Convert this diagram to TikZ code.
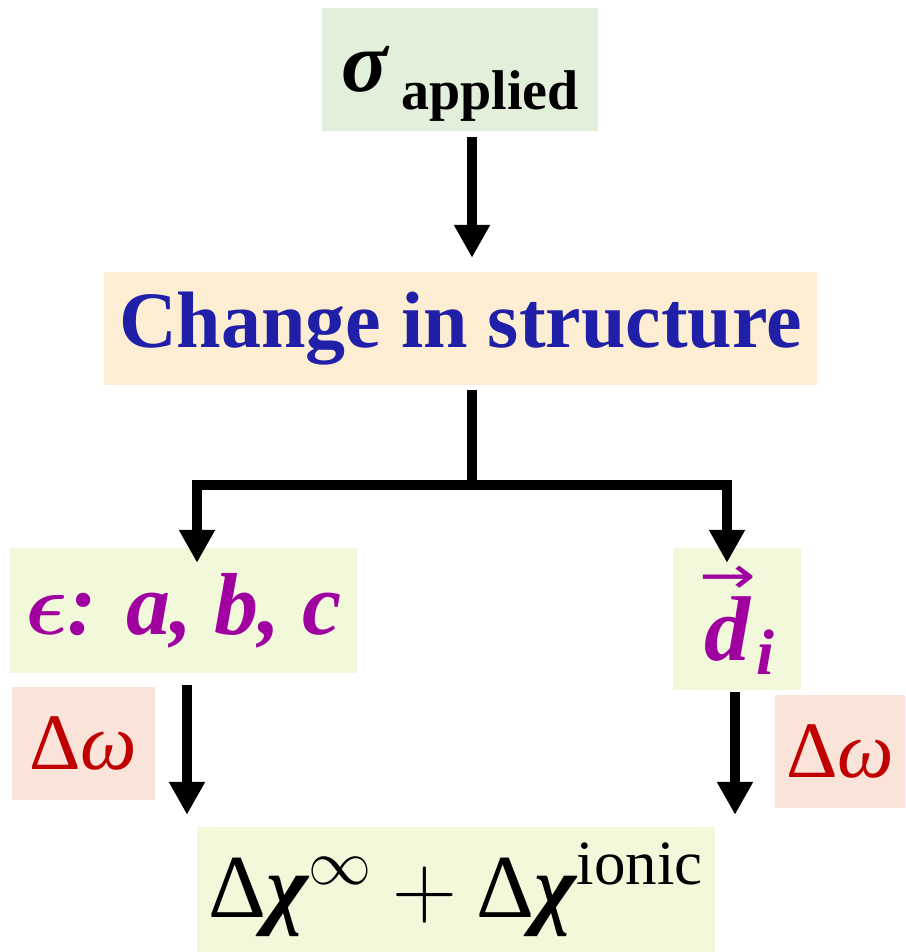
\documentclass[tikz,border=0pt]{standalone}
\usepackage{fix-cm}
\usepackage{amsmath}
\usepackage{bm}
\usepackage{fontspec}
\setmainfont{Liberation Serif}
\newfontfamily\arrowfont{DejaVu Sans}
\usetikzlibrary{arrows.meta}

\definecolor{sigmafill}{HTML}{E2EFDA}
\definecolor{changefill}{HTML}{FDEDD2}
\definecolor{leaffill}{HTML}{F2F9DB}
\definecolor{freqfill}{HTML}{FAE3D8}
\definecolor{changeblue}{HTML}{1F1FA8}
\definecolor{leafpurple}{HTML}{A000A0}
\definecolor{freqred}{HTML}{C00000}

\newcommand{\bigtext}{\fontsize{80}{96}\selectfont}
\newcommand{\bigchi}{\text{\bfseries\itshape χ}}

\begin{document}
\begin{tikzpicture}[x=1pt, y=-1pt, line cap=butt, line join=miter,
    arrow/.style={line width=10pt, -{Triangle[length=33pt,width=34pt]}},
    bar/.style={line width=10pt},
    sigmabox/.style={fill=sigmafill, inner sep=0pt, minimum width=276pt, text height=84pt, text depth=39pt},
    changebox/.style={fill=changefill, inner sep=0pt, minimum width=713pt, minimum height=113pt, text=changeblue},
    leafbox/.style={fill=leaffill, inner sep=0pt, text=leafpurple},
    freqbox/.style={fill=freqfill, inner sep=0pt, minimum width=143pt, minimum height=113pt, text=freqred}]
  \useasboundingbox (0,0) rectangle (905,952);
  % boxes
  \node[sigmabox, font=\bigtext] (sigma) at (460,69.5)
    {{\fontsize{86}{96}\selectfont\bfseries\itshape σ}\hspace{14pt}\raisebox{-18pt}{\fontsize{56}{60}\selectfont\bfseries applied}};
  \node[changebox, font=\bigtext\bfseries] (change) at (460.5,328.5) {Change in structure};
  \node[leafbox, minimum width=347pt, minimum height=125pt, font=\fontsize{88}{100}\selectfont] (strain) at (183.5,610.5)
    {$\bm{\epsilon}$\textbf{\textit{: a, b, c}}};
  \node[leafbox, minimum width=128pt, minimum height=142pt, font=\fontsize{92}{100}\selectfont] (disp) at (737,619)
    {$\overset{\raisebox{-26pt}{\scalebox{1.3}[1]{\arrowfont\fontsize{52}{52}\selectfont →}}}{\text{\bfseries\itshape d}}_{\text{\bfseries\itshape i}}$};
  \node[leafbox, minimum width=518pt, minimum height=125pt, text=black, font=\fontsize{90}{100}\selectfont] (chi) at (456,889.5)
    {$\text{Δ}\bigchi^{\infty}+\text{Δ}\bigchi^{\text{ionic}}$};
  \node[freqbox, font=\bigtext] (freqL) at (83.5,743.5) {Δ\textit{ω}};
  \node[freqbox, minimum width=130pt, font=\bigtext] (freqR) at (840,751.5) {Δ\textit{ω}};
  % connectors
  \coordinate (fork) at (472,485);
  \draw[arrow, shorten <=6pt, shorten >=14pt] ([xshift=12pt]sigma.south) -- ([xshift=12pt]sigma.south |- change.north);
  \draw[bar, shorten <=5pt] ([xshift=11.5pt]change.south) -- ([yshift=-5pt]fork);
  \draw[arrow] (fork) -| ([xshift=13.5pt,yshift=-15pt]strain.north);
  \draw[arrow] (fork) -| ([xshift=-10pt,yshift=-15pt]disp.north);
  \draw[arrow, shorten >=12pt] ([xshift=3.5pt,yshift=-12pt]strain.south) -- ([xshift=3.5pt]strain.south |- chi.north);
  \draw[arrow, shorten >=12pt] ([xshift=-2pt,yshift=-2pt]disp.south) -- ([xshift=-2pt]disp.south |- chi.north);
\end{tikzpicture}
\end{document}
